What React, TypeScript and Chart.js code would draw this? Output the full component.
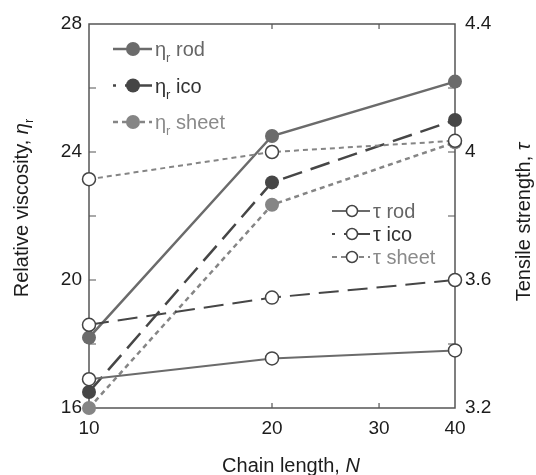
import { useEffect, useRef } from "react";
import { Chart, registerables } from "chart.js";

Chart.register(...registerables);

// Chain length N (log axis)
const chainLengths = [10, 20, 40];
const xTickValues = [10, 20, 30, 40];

// Relative viscosity (left axis)
const etaRod = [18.2, 24.5, 26.2];
const etaIco = [16.5, 23.05, 25.0];
const etaSheet = [16.0, 22.35, 24.3];
const leftTickValues = [16, 18, 20, 22, 24, 26, 28];
const leftLabeled = [16, 20, 24, 28];

// Tensile strength (right axis)
const tauRod = [3.29, 3.355, 3.38];
const tauIco = [3.46, 3.545, 3.6];
const tauSheet = [3.915, 4.0, 4.035];
const rightTickValues = [3.2, 3.4, 3.6, 3.8, 4.0, 4.2, 4.4];
const rightLabeled = [3.2, 3.6, 4.0, 4.4];

const FONT = '"Liberation Sans", Arial, Helvetica, sans-serif';
const FRAME = "#555555";
const TEXT = "#1c1c1c";

const C_ROD = "#6b6b6b";
const C_ICO = "#464646";
const C_SHEET = "#858585";

const LONG_DASH = [20, 9];
const SHORT_DASH = [5, 4];

type Part = { text: string; size: number; italic?: boolean; dy?: number; color?: string };

function partFont(p: Part) {
  return `${p.italic ? "italic " : ""}${p.size}px ${FONT}`;
}

function richWidth(ctx: CanvasRenderingContext2D, parts: Part[]) {
  let w = 0;
  for (const p of parts) {
    ctx.font = partFont(p);
    w += ctx.measureText(p.text).width;
  }
  return w;
}

function drawRich(ctx: CanvasRenderingContext2D, parts: Part[], x: number, y: number, color: string) {
  let cx = x;
  ctx.textBaseline = "alphabetic";
  ctx.textAlign = "left";
  for (const p of parts) {
    ctx.font = partFont(p);
    ctx.fillStyle = p.color || color;
    ctx.fillText(p.text, cx, y + (p.dy || 0));
    cx += ctx.measureText(p.text).width;
  }
}

const pts = (ys: number[]) => chainLengths.map((x, i) => ({ x, y: ys[i] }));

const etaLegend = [
  { idx: 0, label: "rod", color: "#666666" },
  { idx: 1, label: "ico", color: "#333333" },
  { idx: 2, label: "sheet", color: "#8a8a8a" },
];
const tauLegend = [
  { idx: 3, label: "rod", color: "#666666" },
  { idx: 4, label: "ico", color: "#333333" },
  { idx: 5, label: "sheet", color: "#8a8a8a" },
];

function legendSample(ctx: CanvasRenderingContext2D, ds: any, x0: number, x1: number, mx: number, y: number, dashLegend: number[], r: number) {
  ctx.save();
  ctx.strokeStyle = ds.borderColor;
  ctx.lineWidth = ds.borderWidth;
  ctx.setLineDash(dashLegend);
  ctx.beginPath();
  ctx.moveTo(x0, y);
  ctx.lineTo(x1, y);
  ctx.stroke();
  ctx.setLineDash([]);
  ctx.beginPath();
  ctx.arc(mx, y, r, 0, Math.PI * 2);
  ctx.fillStyle = ds.pointBackgroundColor;
  ctx.fill();
  ctx.lineWidth = ds.pointBorderWidth;
  ctx.strokeStyle = ds.pointBorderColor;
  if (ds.pointBorderWidth > 0) ctx.stroke();
  ctx.restore();
}

const decorPlugin = {
  id: "decor",
  beforeDatasetsDraw(chart: any) {
    const { ctx, chartArea: a, scales } = chart;
    ctx.save();
    ctx.strokeStyle = FRAME;
    ctx.lineWidth = 1.5;
    ctx.strokeRect(a.left, a.top, a.right - a.left, a.bottom - a.top);
    ctx.beginPath();
    for (const v of leftTickValues.slice(1, -1)) {
      const y = scales.yL.getPixelForValue(v);
      ctx.moveTo(a.left, y);
      ctx.lineTo(a.left + 7, y);
    }
    for (const v of rightTickValues.slice(1, -1)) {
      const y = scales.yR.getPixelForValue(v);
      ctx.moveTo(a.right, y);
      ctx.lineTo(a.right - 7, y);
    }
    for (const v of xTickValues.slice(1, -1)) {
      const x = scales.x.getPixelForValue(v);
      ctx.moveTo(x, a.bottom);
      ctx.lineTo(x, a.bottom - 5);
      ctx.moveTo(x, a.top);
      ctx.lineTo(x, a.top + 5);
    }
    ctx.lineWidth = 1.2;
    ctx.stroke();
    ctx.restore();
  },
  afterDraw(chart: any) {
    const { ctx, chartArea: a } = chart;
    const dsets = chart.data.datasets;
    ctx.save();

    // Axis titles
    const leftTitle: Part[] = [
      { text: "Relative viscosity, ", size: 20 },
      { text: "η", size: 20, italic: true },
      { text: "r", size: 13, dy: 5 },
    ];
    ctx.save();
    ctx.translate(28, 208);
    ctx.rotate(-Math.PI / 2);
    drawRich(ctx, leftTitle, -richWidth(ctx, leftTitle) / 2, 0, TEXT);
    ctx.restore();

    const rightTitle: Part[] = [
      { text: "Tensile strength, ", size: 20 },
      { text: "τ", size: 20, italic: true },
    ];
    ctx.save();
    ctx.translate(530, 222);
    ctx.rotate(-Math.PI / 2);
    drawRich(ctx, rightTitle, -richWidth(ctx, rightTitle) / 2, 0, TEXT);
    ctx.restore();

    const xTitle: Part[] = [
      { text: "Chain length, ", size: 20 },
      { text: "N", size: 20, italic: true },
    ];
    drawRich(ctx, xTitle, 291 - richWidth(ctx, xTitle) / 2, 472, TEXT);

    // Viscosity legend
    etaLegend.forEach((item, i) => {
      const ds = dsets[item.idx];
      const y = 49 + i * 36.5;
      const dash = ds.borderDash.length === 0 ? [] : ds.borderDash === SHORT_DASH ? SHORT_DASH : [3, 9, 60];
      legendSample(ctx, ds, a.left + 24, a.left + 63, a.left + 44, y, dash, 7);
      drawRich(
        ctx,
        [
          { text: "η", size: 20 },
          { text: "r", size: 13, dy: 6 },
          { text: " " + item.label, size: 20 },
        ],
        a.left + 66,
        y + 7,
        item.color
      );
    });

    // Tensile strength legend
    tauLegend.forEach((item, i) => {
      const ds = dsets[item.idx];
      const y = 211 + i * 23;
      const dash = ds.borderDash.length === 0 ? [] : ds.borderDash === SHORT_DASH ? SHORT_DASH : [3, 9, 60];
      legendSample(ctx, ds, 332, 370, 352, y, dash, 5.5);
      drawRich(ctx, [{ text: "τ " + item.label, size: 20 }], 373, y + 7, item.color);
    });

    ctx.restore();
  },
};

export default function App() {
  const canvasRef = useRef<HTMLCanvasElement | null>(null);

  useEffect(() => {
    document.body.style.margin = "0";
    const canvas = canvasRef.current;
    if (!canvas) return;

    const etaSet = (label: string, data: number[], color: string, dash: number[]) => ({
      label,
      data: pts(data),
      yAxisID: "yL",
      borderColor: color,
      borderWidth: 2.5,
      borderDash: dash,
      pointRadius: 7,
      pointBackgroundColor: color,
      pointBorderColor: color,
      pointBorderWidth: 0,
      fill: false,
      tension: 0,
      clip: false,
      order: 2,
    });
    const tauSet = (label: string, data: number[], color: string, dash: number[]) => ({
      label,
      data: pts(data),
      yAxisID: "yR",
      borderColor: color,
      borderWidth: 2,
      borderDash: dash,
      pointRadius: 6.5,
      pointBackgroundColor: "#ffffff",
      pointBorderColor: "#444444",
      pointBorderWidth: 1.5,
      fill: false,
      tension: 0,
      clip: false,
      order: 1,
    });

    const tickFont = { family: FONT, size: 19 };

    const chart = new Chart(canvas, {
      type: "line",
      data: {
        datasets: [
          etaSet("ηr rod", etaRod, C_ROD, []),
          etaSet("ηr ico", etaIco, C_ICO, LONG_DASH),
          etaSet("ηr sheet", etaSheet, C_SHEET, SHORT_DASH),
          tauSet("τ rod", tauRod, C_ROD, []),
          tauSet("τ ico", tauIco, C_ICO, LONG_DASH),
          tauSet("τ sheet", tauSheet, C_SHEET, SHORT_DASH),
        ] as any,
      },
      options: {
        animation: false,
        responsive: true,
        maintainAspectRatio: false,
        layout: { padding: { top: 24, left: 0, right: 0, bottom: 0 } },
        plugins: { legend: { display: false }, tooltip: { enabled: false } },
        scales: {
          x: {
            type: "logarithmic",
            min: 10,
            max: 40,
            afterBuildTicks: (s: any) => {
              s.ticks = xTickValues.map((value) => ({ value }));
            },
            afterFit: (s: any) => {
              s.height = 67;
            },
            ticks: {
              autoSkip: false,
              maxRotation: 0,
              padding: 9,
              color: TEXT,
              font: tickFont,
              callback: (v: any) => String(v),
            },
            grid: { display: false, drawTicks: false },
            border: { display: false },
          },
          yL: {
            type: "linear",
            position: "left",
            min: 16,
            max: 28,
            afterBuildTicks: (s: any) => {
              s.ticks = leftTickValues.map((value) => ({ value }));
            },
            afterFit: (s: any) => {
              s.width = 89;
            },
            ticks: {
              autoSkip: false,
              padding: 7,
              color: TEXT,
              font: tickFont,
              callback: (v: any) => (leftLabeled.includes(Number(v)) ? String(v) : ""),
            },
            grid: { display: false, drawTicks: false },
            border: { display: false },
          },
          yR: {
            type: "linear",
            position: "right",
            min: 3.2,
            max: 4.4,
            afterBuildTicks: (s: any) => {
              s.ticks = rightTickValues.map((value) => ({ value }));
            },
            afterFit: (s: any) => {
              s.width = 81;
            },
            ticks: {
              autoSkip: false,
              padding: 10,
              color: TEXT,
              font: tickFont,
              callback: (v: any) =>
                rightLabeled.some((r) => Math.abs(r - Number(v)) < 1e-6) ? String(Number(Number(v).toFixed(1))) : "",
            },
            grid: { display: false, drawTicks: false },
            border: { display: false },
          },
        },
      } as any,
      plugins: [decorPlugin],
    });

    return () => chart.destroy();
  }, []);

  return (
    <div style={{ position: "absolute", left: 0, top: 0, width: 536, height: 475, background: "#ffffff" }}>
      <canvas ref={canvasRef} />
    </div>
  );
}
